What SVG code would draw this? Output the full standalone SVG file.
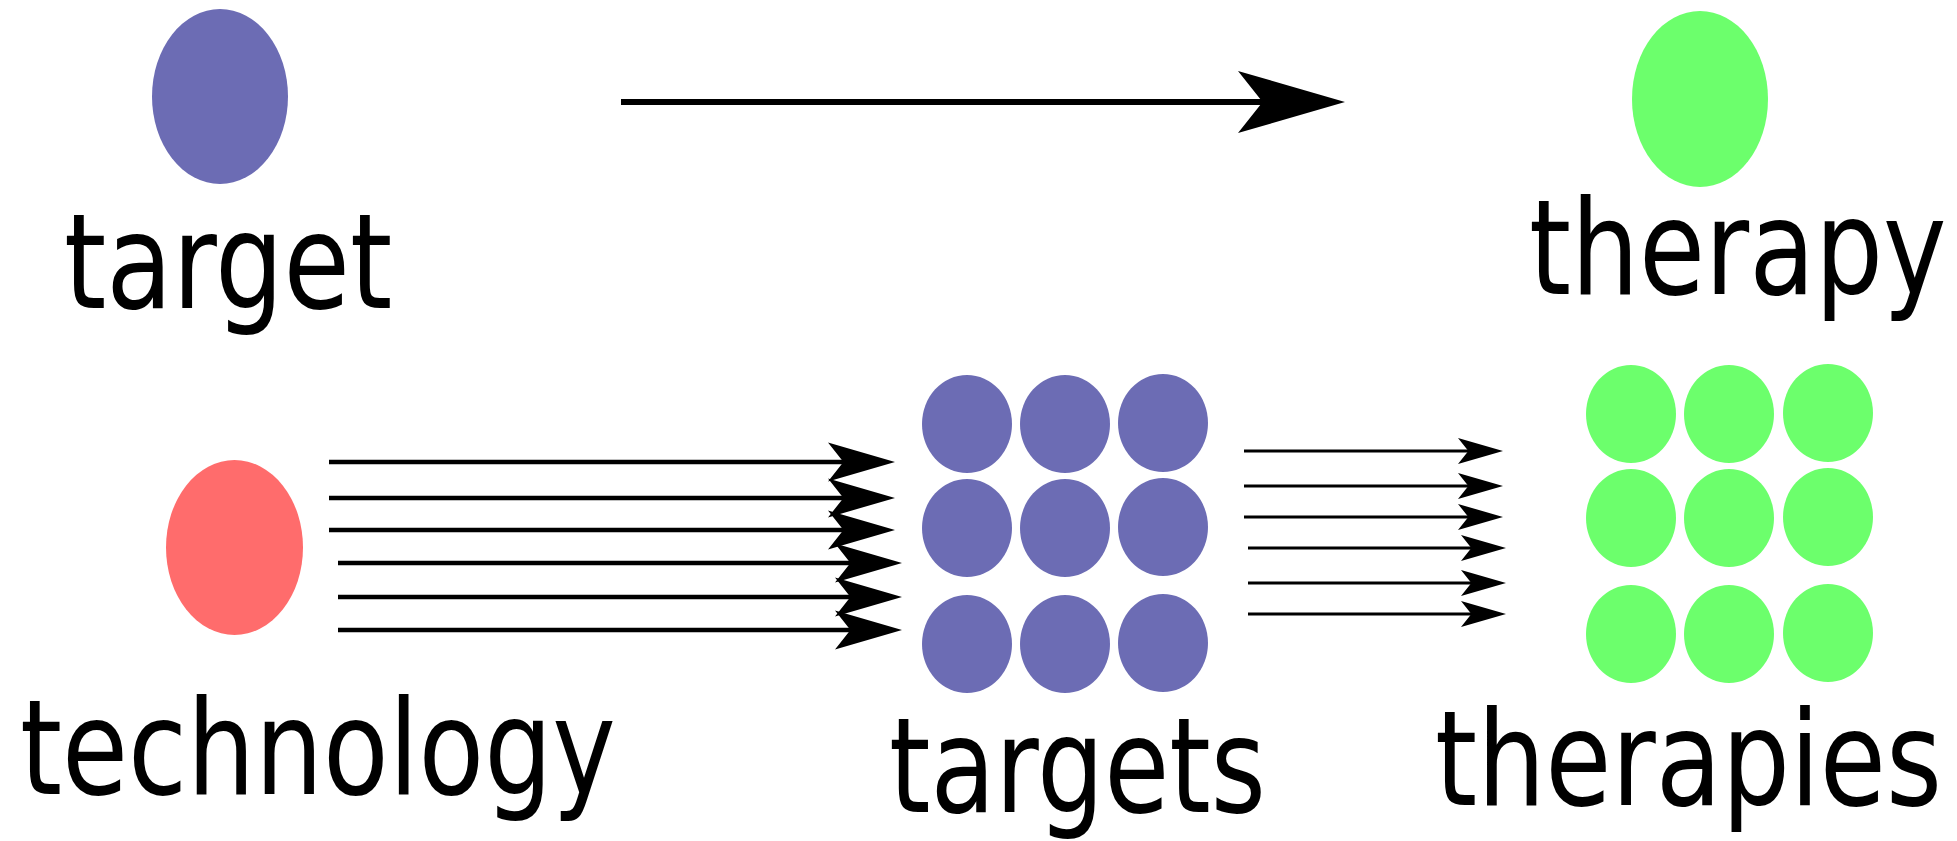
<svg xmlns="http://www.w3.org/2000/svg" xmlns:xlink="http://www.w3.org/1999/xlink" width="1957" height="841" viewBox="0 0 1957 841">
  <style>
    .blue { fill: #6c6cb4; }
    .green { fill: #6cff6c; }
    .red { fill: #ff6c6c; }
    .label { font-family: "DejaVu Sans", "Noto Sans", sans-serif; font-size: 132px; fill: #000; }
    .shaft { stroke: #000; fill: none; stroke-linecap: butt; }
    .head { fill: #000; }
  </style>
  <defs>
    <!-- notched arrowhead, tip at origin, unit length -->
    <path id="head" d="M0,0 L-1,-0.29 L-0.77,0 L-1,0.29 Z"/>
  </defs>

  <rect width="1957" height="841" fill="#fff"/>

  <g id="target">
    <ellipse class="blue" cx="220" cy="96.5" rx="68" ry="87.5"/>
    <text class="label" transform="translate(64,308) scale(0.818,1)">target</text>
  </g>

  <g id="therapy">
    <ellipse class="green" cx="1700" cy="99" rx="68" ry="88"/>
    <text class="label" transform="translate(1529,294) scale(0.813,1)">therapy</text>
  </g>

  <g id="technology">
    <ellipse class="red" cx="234.5" cy="547.5" rx="68.5" ry="87.5"/>
    <text class="label" transform="translate(20,794) scale(0.813,1)">technology</text>
  </g>

  <g id="targets">
    <ellipse class="blue" cx="967" cy="424" rx="45" ry="49"/>
    <ellipse class="blue" cx="1065" cy="424" rx="45" ry="49"/>
    <ellipse class="blue" cx="1163" cy="423" rx="45" ry="49"/>
    <ellipse class="blue" cx="967" cy="528" rx="45" ry="49"/>
    <ellipse class="blue" cx="1065" cy="528" rx="45" ry="49"/>
    <ellipse class="blue" cx="1163" cy="527" rx="45" ry="49"/>
    <ellipse class="blue" cx="967" cy="644" rx="45" ry="49"/>
    <ellipse class="blue" cx="1065" cy="644" rx="45" ry="49"/>
    <ellipse class="blue" cx="1163" cy="643" rx="45" ry="49"/>
    <text class="label" transform="translate(889,812) scale(0.802,1)">targets</text>
  </g>

  <g id="therapies">
    <ellipse class="green" cx="1631" cy="414" rx="45" ry="49"/>
    <ellipse class="green" cx="1729" cy="414" rx="45" ry="49"/>
    <ellipse class="green" cx="1828" cy="413" rx="45" ry="49"/>
    <ellipse class="green" cx="1631" cy="518" rx="45" ry="49"/>
    <ellipse class="green" cx="1729" cy="518" rx="45" ry="49"/>
    <ellipse class="green" cx="1828" cy="517" rx="45" ry="49"/>
    <ellipse class="green" cx="1631" cy="634" rx="45" ry="49"/>
    <ellipse class="green" cx="1729" cy="634" rx="45" ry="49"/>
    <ellipse class="green" cx="1828" cy="633" rx="45" ry="49"/>
    <text class="label" transform="translate(1435,805) scale(0.815,1)">therapies</text>
  </g>

  <g id="connectors">
    <!-- single target to single therapy -->
    <line class="shaft" x1="621" y1="102" x2="1265" y2="102" stroke-width="6"/>
    <use class="head" xlink:href="#head" transform="translate(1345,102) scale(107)"/>

    <!-- technology to targets -->
    <g stroke-width="4.5">
      <line class="shaft" x1="329" y1="462" x2="845" y2="462"/>
      <line class="shaft" x1="329" y1="498" x2="845" y2="498"/>
      <line class="shaft" x1="329" y1="530" x2="845" y2="530"/>
      <line class="shaft" x1="338" y1="563" x2="852" y2="563"/>
      <line class="shaft" x1="338" y1="597" x2="852" y2="597"/>
      <line class="shaft" x1="338" y1="630" x2="852" y2="630"/>
    </g>
    <use class="head" xlink:href="#head" transform="translate(895,462) scale(67)"/>
    <use class="head" xlink:href="#head" transform="translate(895,498) scale(67)"/>
    <use class="head" xlink:href="#head" transform="translate(895,530) scale(67)"/>
    <use class="head" xlink:href="#head" transform="translate(902,563) scale(67)"/>
    <use class="head" xlink:href="#head" transform="translate(902,597) scale(67)"/>
    <use class="head" xlink:href="#head" transform="translate(902,630) scale(67)"/>

    <!-- targets to therapies -->
    <g stroke-width="3">
      <line class="shaft" x1="1244" y1="451" x2="1472" y2="451"/>
      <line class="shaft" x1="1244" y1="486" x2="1472" y2="486"/>
      <line class="shaft" x1="1244" y1="517" x2="1472" y2="517"/>
      <line class="shaft" x1="1248" y1="548" x2="1475" y2="548"/>
      <line class="shaft" x1="1248" y1="583" x2="1475" y2="583"/>
      <line class="shaft" x1="1248" y1="614" x2="1475" y2="614"/>
    </g>
    <use class="head" xlink:href="#head" transform="translate(1503,451) scale(45)"/>
    <use class="head" xlink:href="#head" transform="translate(1503,486) scale(45)"/>
    <use class="head" xlink:href="#head" transform="translate(1503,517) scale(45)"/>
    <use class="head" xlink:href="#head" transform="translate(1506,548) scale(45)"/>
    <use class="head" xlink:href="#head" transform="translate(1506,583) scale(45)"/>
    <use class="head" xlink:href="#head" transform="translate(1506,614) scale(45)"/>
  </g>
</svg>
